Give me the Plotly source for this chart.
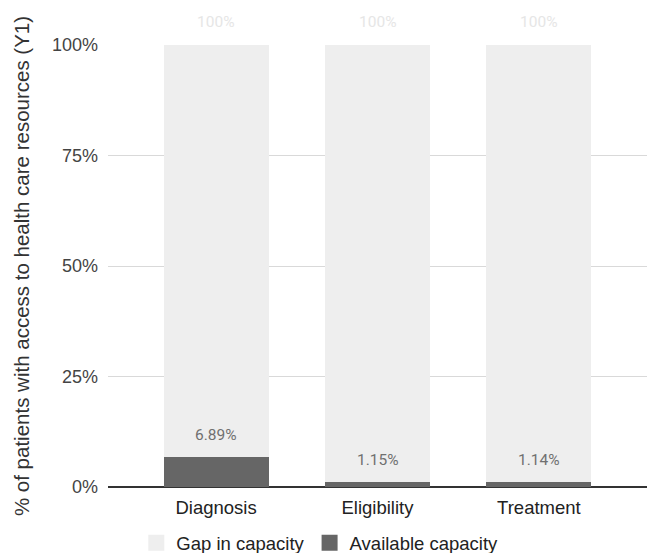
import plotly.graph_objects as go

# Capacity data for year 1, by stage of the care pathway
stages = ["Diagnosis", "Eligibility", "Treatment"]
available = [6.89, 1.15, 1.14]
total = [100, 100, 100]
gap = [t - a for t, a in zip(total, available)]
y_ticks = [0, 25, 50, 75, 100]
y_tick_labels = ["0%", "25%", "50%", "75%", "100%"]

GAP_COLOR = "#eeeeee"
AVAIL_COLOR = "#666666"

fig = go.Figure()

fig.add_trace(go.Bar(
    x=stages, y=available, name="Available capacity",
    marker=dict(color=AVAIL_COLOR, line=dict(width=0)),
    showlegend=False, hoverinfo="skip",
))
fig.add_trace(go.Bar(
    x=stages, y=gap, name="Gap in capacity",
    marker=dict(color=GAP_COLOR, line=dict(width=0)),
    showlegend=False, hoverinfo="skip",
))

# Legend entries with larger square swatches
for name, color in [("Gap in capacity", GAP_COLOR), ("Available capacity", AVAIL_COLOR)]:
    fig.add_trace(go.Scatter(
        x=[None], y=[None], mode="markers", name=name,
        marker=dict(symbol="square", size=18, color=color),
    ))

# Value labels above each segment
for s, a, t in zip(stages, available, total):
    fig.add_annotation(
        x=s, y=a, text=f"{a:.2f}%", showarrow=False,
        yanchor="middle", yshift=22,
        font=dict(family="Roboto", size=15.5, color="#707070"),
    )
    fig.add_annotation(
        x=s, y=t, text=f"{t}%", showarrow=False,
        yanchor="middle", yshift=23,
        font=dict(family="Roboto", size=15.5, color="#e6e6e6"),
    )

fig.update_layout(
    width=647, height=553,
    barmode="stack",
    bargap=0.35,
    plot_bgcolor="white", paper_bgcolor="white",
    margin=dict(l=108, r=0, t=45, b=66, autoexpand=False),
    font=dict(family="Liberation Sans, Arial, sans-serif", color="#333333"),
    xaxis=dict(
        range=[-0.67, 2.67],
        showgrid=False, showline=False, zeroline=False,
        ticks="", tickfont=dict(size=18.5, color="#222222"),
        ticklabelstandoff=7, automargin=False,
    ),
    yaxis=dict(
        range=[0, 100],
        tickvals=y_ticks, ticktext=y_tick_labels,
        showgrid=True, gridcolor="#d9d9d9", gridwidth=1,
        zeroline=True, zerolinecolor="#333333", zerolinewidth=1.5,
        showline=False, ticks="", automargin=False,
        tickfont=dict(size=18, color="#444444"),
        ticklabelstandoff=9,
        title=dict(
            text="% of patients with access to health care resources (Y1)",
            font=dict(size=20.5, color="#333333"), standoff=16,
        ),
    ),
    legend=dict(
        orientation="h", traceorder="normal",
        xref="paper", yref="paper",
        x=0.393, xanchor="center", y=-0.170, yanchor="bottom",
        font=dict(size=18.5, color="#222222"),
        itemsizing="trace",
        bgcolor="rgba(0,0,0,0)",
    ),
)

fig.write_html("out.html")
